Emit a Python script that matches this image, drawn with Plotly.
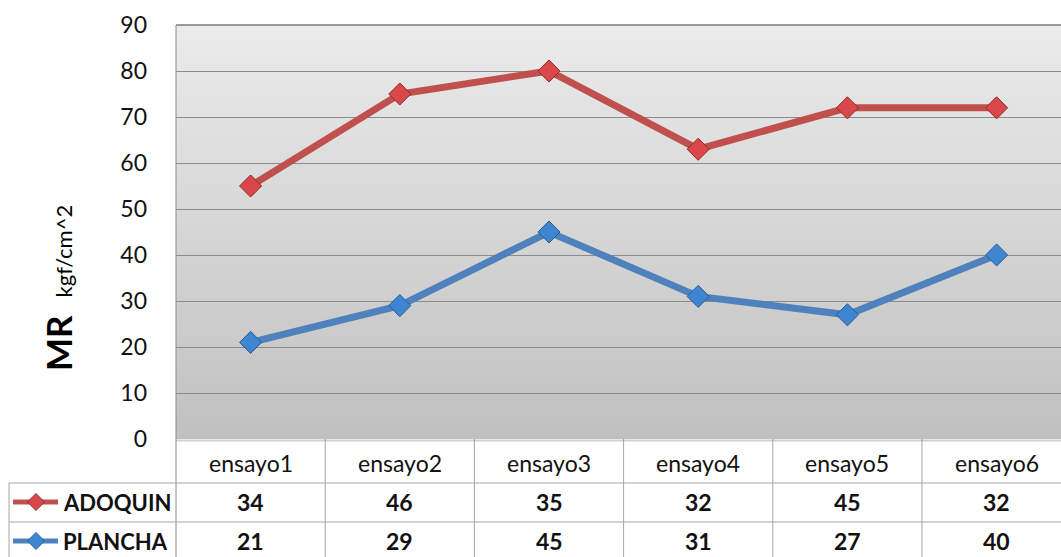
import plotly.graph_objects as go

categories = ["ensayo1", "ensayo2", "ensayo3", "ensayo4", "ensayo5", "ensayo6"]
adoquin_plot = [55, 75, 80, 63, 72, 72]
plancha_plot = [21, 29, 45, 31, 27, 40]
adoquin_table = [34, 46, 35, 32, 45, 32]
plancha_table = [21, 29, 45, 31, 27, 40]
yticks = [0, 10, 20, 30, 40, 50, 60, 70, 80, 90]

RED = "#c0504d"
RED_D = "#8c2d2a"
RED_M = "#d9474a"
BLUE = "#4f81bd"
BLUE_D = "#2c5a8e"
BLUE_M = "#3f86d2"
FONT = "Lato"

OFF = 0
PW, PH = 1061, 557
W, H = PW - OFF, PH - OFF
PLOT_L, PLOT_T, PLOT_B = 176, 25, 439   # page pixels
L = PLOT_L - OFF
T = PLOT_T - OFF
B = H - (PLOT_B - OFF)
COLW = 149.2
pw = W - L
ph = H - T - B
xmax = -0.5 + pw / COLW


def px_x(p):
    return ((p - OFF) - L) / pw


def px_y(p):
    return (H - B - (p - OFF)) / ph


fig = go.Figure()
xs = list(range(len(categories)))
fig.add_trace(go.Scatter(x=xs, y=adoquin_plot, mode="lines+markers", name="ADOQUIN",
                         line=dict(color=RED, width=7),
                         marker=dict(symbol="diamond", size=17, color=RED_M,
                                     line=dict(color=RED_D, width=1))))
fig.add_trace(go.Scatter(x=xs, y=plancha_plot, mode="lines+markers", name="PLANCHA",
                         line=dict(color=BLUE, width=7),
                         marker=dict(symbol="diamond", size=17, color=BLUE_M,
                                     line=dict(color=BLUE_D, width=1))))

shapes = []
# gradient background
n = 140
c0 = (0xeb, 0xeb, 0xeb)
c1 = (0xc0, 0xc0, 0xc0)
for i in range(n):
    t = (i + 0.5) / n
    c = tuple(int(round(c1[k] + (c0[k] - c1[k]) * t)) for k in range(3))
    shapes.append(dict(type="rect", xref="x domain", yref="y", x0=0, x1=1,
                       y0=90 * i / n, y1=90 * (i + 1) / n + 0.2, layer="below",
                       fillcolor="rgb(%d,%d,%d)" % c, line=dict(width=0)))

LINEC = "#a6a6a6"
# plot top border
shapes.append(dict(type="line", xref="paper", yref="paper", x0=px_x(PLOT_L), x1=px_x(PW + 5),
                   y0=px_y(PLOT_T), y1=px_y(PLOT_T), line=dict(color="#7a7a7a", width=1.5)))
# left vertical line (plot border + table)
shapes.append(dict(type="line", xref="paper", yref="paper", x0=px_x(PLOT_L), x1=px_x(PLOT_L),
                   y0=px_y(PLOT_T), y1=px_y(PH + 5), line=dict(color="#8a8a8a", width=1)))
# column lines
for k in range(1, 7):
    xp = PLOT_L + COLW * k
    if xp < PW:
        shapes.append(dict(type="line", xref="paper", yref="paper", x0=px_x(xp), x1=px_x(xp),
                           y0=px_y(PLOT_B), y1=px_y(PH + 5), line=dict(color=LINEC, width=1)))
# horizontal table lines
for yp in [483, 522]:
    shapes.append(dict(type="line", xref="paper", yref="paper", x0=px_x(9), x1=px_x(PW + 5),
                       y0=px_y(yp), y1=px_y(yp), line=dict(color=LINEC, width=1)))
shapes.append(dict(type="line", xref="paper", yref="paper", x0=px_x(9), x1=px_x(9),
                   y0=px_y(483), y1=px_y(PH + 5), line=dict(color=LINEC, width=1)))
# bottom shadow of plot area
shapes.append(dict(type="line", xref="paper", yref="paper", x0=px_x(PLOT_L), x1=px_x(PW + 5),
                   y0=px_y(PLOT_B + 1.5), y1=px_y(PLOT_B + 1.5),
                   line=dict(color="rgba(120,120,120,0.35)", width=2)))

# legend keys in table
key_rows = [(502, RED, RED_M, RED_D, "ADOQUIN"), (541, BLUE, BLUE_M, BLUE_D, "PLANCHA")]
for yp, lc, mc, oc, name in key_rows:
    shapes.append(dict(type="line", xref="paper", yref="paper", x0=px_x(13), x1=px_x(58),
                       y0=px_y(yp), y1=px_y(yp), line=dict(color=lc, width=5)))
    cx, r = 36, 8.5
    path = "M %f,%f L %f,%f L %f,%f L %f,%f Z" % (
        px_x(cx - r), px_y(yp), px_x(cx), px_y(yp - r),
        px_x(cx + r), px_y(yp), px_x(cx), px_y(yp + r))
    shapes.append(dict(type="path", xref="paper", yref="paper", path=path,
                       fillcolor=mc, line=dict(color=oc, width=1)))

annotations = []
for i, c in enumerate(categories):
    xc = PLOT_L + COLW * (i + 0.5)
    annotations.append(dict(xref="paper", yref="paper", x=px_x(xc), y=px_y(463), text=c,
                            showarrow=False, xanchor="center", yanchor="middle",
                            font=dict(family=FONT, size=23, color="#111")))
    annotations.append(dict(xref="paper", yref="paper", x=px_x(xc), y=px_y(502),
                            text="<b>%d</b>" % adoquin_table[i],
                            showarrow=False, xanchor="center", yanchor="middle",
                            font=dict(family=FONT, size=23, color="#111")))
    annotations.append(dict(xref="paper", yref="paper", x=px_x(xc), y=px_y(541),
                            text="<b>%d</b>" % plancha_table[i],
                            showarrow=False, xanchor="center", yanchor="middle",
                            font=dict(family=FONT, size=23, color="#111")))
for yp, _, _, _, name in key_rows:
    annotations.append(dict(xref="paper", yref="paper", x=px_x(61), y=px_y(yp),
                            text="<b>%s</b>" % name, showarrow=False,
                            xanchor="left", yanchor="middle",
                            font=dict(family=FONT, size=22, color="#111")))
annotations.append(dict(xref="paper", yref="paper", x=px_x(58), y=px_y(288),
                        text="<b>MR</b>  <span style='font-size:22px'>kgf/cm^2</span>",
                        textangle=-90, showarrow=False, xanchor="center", yanchor="middle",
                        font=dict(family=FONT, size=35, color="#000")))

fig.update_layout(
    width=W, height=H,
    margin=dict(l=L, r=0, t=T, b=B, pad=0),
    paper_bgcolor="white", plot_bgcolor="rgba(0,0,0,0)",
    showlegend=False,
    shapes=shapes, annotations=annotations,
    xaxis=dict(range=[-0.5, xmax], showticklabels=False, showgrid=False, zeroline=False,
               showline=False, ticks="", fixedrange=True),
    yaxis=dict(range=[0, 90], tickvals=yticks, showgrid=True, gridcolor="#8c8c8c",
               gridwidth=1, zeroline=False, showline=False, ticks="", fixedrange=True,
               ticklabelstandoff=28,
               tickfont=dict(family=FONT, size=23, color="#111")),
)
fig.write_html("out.html", config={"displayModeBar": False},
               post_script="document.body.style.margin='0';document.body.style.overflow='hidden';")
